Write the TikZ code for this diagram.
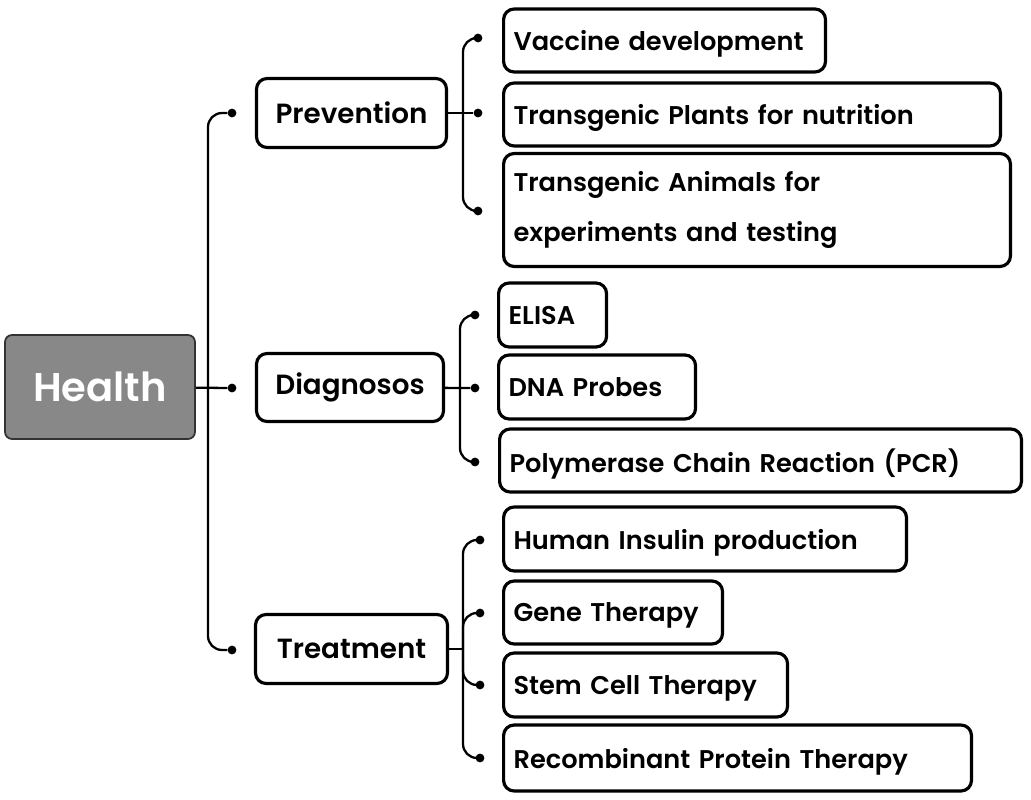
\documentclass[tikz,border=0pt]{standalone}
\usepackage{fontspec}
\setmainfont{Poppins SemiBold}
\usepackage{tikz}
\usetikzlibrary{calc}
\definecolor{hgray}{HTML}{888888}
\tikzset{
    mid/.style={draw, line width=1.8pt, rounded corners=6pt, minimum width=3.8cm, minimum height=1.38cm, font=\fontsize{15.8}{20}\selectfont},
    leaf/.style={draw, line width=1.8pt, rounded corners=6pt, anchor=west, align=left, inner xsep=0.2cm, minimum height=1.26cm, text depth=0pt, font={\fontsize{14.6}{19}\selectfont\hyphenpenalty=10000\relax}},
    pin/.style={circle, fill, inner sep=0pt, minimum size=5pt},
    link/.style={line width=1.3pt, rounded corners=8pt}
}
\begin{document}
\begin{tikzpicture}[x=0.02cm, y=-0.02cm]
                    \useasboundingbox (0,0) rectangle (1031,800);
                    \node[draw=black!80, line width=1pt, fill=hgray, text=white, rounded corners=4pt, minimum width=3.8cm, minimum height=2.08cm, font=\fontsize{22.8}{28}\selectfont] (health) at (100,387) {Health};

                    \node[mid] (pre) at (351.5,113) {Prevention};
                    \node[mid, minimum width=3.74cm, minimum height=1.36cm] (dia) at (350,387.5) {Diagnosos};
                    \node[mid, minimum width=3.84cm] (tre) at (351.5,649) {Treatment};

                    \node[leaf, text width=6.04cm] (vac) at (502,40.5) {Vaccine development};
                    \node[leaf, text width=9.54cm] (pla) at (502,114.5) {Transgenic Plants for nutrition};
                    \node[leaf, text width=9.74cm, text depth=, minimum height=2.26cm, font=\fontsize{14.6}{28}\selectfont] (ani) at (502,210) {Transgenic Animals for\\experiments and testing};
                    \node[leaf, text width=1.76cm, minimum height=1.28cm] (eli) at (497,315) {ELISA};
                    \node[leaf, text width=3.54cm, minimum height=1.28cm] (dna) at (497,387) {DNA Probes};
                    \node[leaf, text width=10.04cm] (pcr) at (498,460.5) {Polymerase Chain Reaction (PCR)};
                    \node[leaf, text width=7.66cm, minimum height=1.28cm] (ins) at (502,539) {Human Insulin production};
                    \node[leaf, text width=3.98cm] (gen) at (502,612.5) {Gene Therapy};
                    \node[leaf, text width=5.28cm, minimum height=1.28cm] (ste) at (502,685) {Stem Cell Therapy};
                    \node[leaf, text width=8.96cm, minimum height=1.32cm] (rec) at (502,758) {Recombinant Protein Therapy};

                    \node[pin] (m1) at (232,113) {};
                    \node[pin] (m2) at (232,388) {};
                    \node[pin] (m3) at (232,650) {};
                    \node[pin] (p1) at (478,38) {};
                    \node[pin] (p2) at (478,113) {};
                    \node[pin] (p3) at (478,211) {};
                    \node[pin] (q1) at (475,315) {};
                    \node[pin] (q2) at (475,388) {};
                    \node[pin] (q3) at (475,462) {};
                    \node[pin] (r1) at (480,540) {};
                    \node[pin] (r2) at (480,613) {};
                    \node[pin] (r3) at (480,685) {};
                    \node[pin] (r4) at (480,758) {};

                    \coordinate (mainx) at (208,388);
                    \coordinate (prex) at (463,113);
                    \coordinate (diax) at (460,388);
                    \coordinate (trex) at (463,649);

                    \draw[link] (m1) -| (mainx) |- (m3);
                    \draw[link] (health) -- (m2);
                    \draw[link] (p1) -| (prex) |- (p3);
                    \draw[link] (pre) -- (p2);
                    \draw[link] (q1) -| (diax) |- (q3);
                    \draw[link] (dia) -- (q2);
                    \draw[link] (r1) -| (trex) |- (r4);
                    \draw[link] (r2) -| (trex);
                    \draw[link] (r3) -| (trex);
                    \draw[link] (tre) -- (trex);
                \end{tikzpicture}
\end{document}
